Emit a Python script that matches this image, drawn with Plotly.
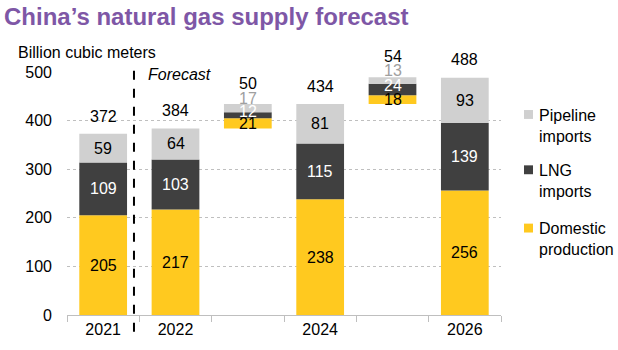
import plotly.graph_objects as go

# ---- data ----
categories = ["2021", "2022", "2022-24", "2024", "2024-26", "2026"]
tick_labels = ["2021", "2022", "", "2024", "", "2026"]
domestic = [205, 217, 21, 238, 18, 256]
lng = [109, 103, 12, 115, 24, 139]
pipeline = [59, 64, 17, 81, 13, 93]
totals = [372, 384, 50, 434, 54, 488]
is_change = [False, False, True, False, True, False]

series_names = ["Domestic<br>production", "LNG<br>imports", "Pipeline<br>imports"]
colors = ["#FFC91F", "#404040", "#D0D0D0"]
label_colors = ["#000000", "#FFFFFF", "#000000"]
change_label_colors = ["#000000", "#FFFFFF", "#A0A0A0"]
# nudges (px) for labels on the thin change bars
change_nudge = [0, 4, 10]

FONT = "Liberation Sans, Arial, sans-serif"
W, H = 618, 350
L, R, T, B = 67, 117, 72, 32
PW, PH = W - L - R, H - T - B

x = list(range(len(categories)))

# compute bases: change bars float on top of previous total
start = []
prev_total = 0
for i in range(len(categories)):
    if is_change[i]:
        start.append(prev_total)
        prev_total = prev_total + totals[i]
    else:
        start.append(0)
        prev_total = totals[i]

series = [domestic, lng, pipeline]
fig = go.Figure()
annotations = []
for s, vals in enumerate(series):
    bases = []
    for i in range(len(categories)):
        b = start[i] + sum(series[k][i] for k in range(s))
        bases.append(b)
    fig.add_trace(go.Bar(
        x=x, y=vals, base=bases, name=series_names[s],
        marker=dict(color=colors[s], line=dict(width=0)),
        width=0.66, showlegend=False, hoverinfo="skip",
    ))
    for i in range(len(categories)):
        annotations.append(dict(
            x=x[i], y=bases[i] + vals[i] / 2, xref="x", yref="y",
            text=str(vals[i]), showarrow=False,
            yshift=change_nudge[s] if is_change[i] else 0,
            font=dict(family=FONT, size=16,
                      color=change_label_colors[s] if is_change[i] else label_colors[s]),
        ))

# totals
for i in range(len(categories)):
    top = start[i] + totals[i]
    annotations.append(dict(
        x=x[i], y=top, xref="x", yref="y", text=str(totals[i]), showarrow=False,
        yshift=21 if is_change[i] else 18,
        font=dict(family=FONT, size=16, color="#000000"),
    ))

def px_x(px):
    return (px - L) / PW

def px_y(py):
    return (H - B - py) / PH

# axis title
annotations.append(dict(
    x=px_x(16), y=px_y(52), xref="paper", yref="paper", xanchor="left", yanchor="middle",
    text="Billion cubic meters", showarrow=False,
    font=dict(family=FONT, size=16, color="#000000"),
))
# forecast label
annotations.append(dict(
    x=0.59, y=px_y(75), xref="x", yref="paper", xanchor="left", yanchor="middle",
    text="<i>Forecast</i>", showarrow=False,
    font=dict(family=FONT, size=16, color="#000000"),
))

shapes = [dict(
    type="line", xref="x", yref="paper", x0=0.426, x1=0.426,
    y0=px_y(335), y1=px_y(68),
    line=dict(color="#000000", width=2, dash="dash"),
)]

# manual legend
legend_rows = [("Pipeline<br>imports", colors[2], 115),
               ("LNG<br>imports", colors[1], 171),
               ("Domestic<br>production", colors[0], 230)]
for text, col, ycen in legend_rows:
    shapes.append(dict(
        type="rect", xref="paper", yref="paper",
        x0=px_x(524), x1=px_x(533), y0=px_y(ycen + 4.5), y1=px_y(ycen - 4.5),
        fillcolor=col, line=dict(width=0),
    ))
    annotations.append(dict(
        x=px_x(537), y=px_y(ycen - 10), xref="paper", yref="paper",
        xanchor="left", yanchor="top", align="left", text=text, showarrow=False,
        font=dict(family=FONT, size=16, color="#000000"),
    ))

fig.update_layout(
    width=W, height=H,
    margin=dict(l=L, r=R, t=T, b=B, pad=0),
    plot_bgcolor="white", paper_bgcolor="white",
    barmode="overlay",
    title=dict(
        text="<b>China’s natural gas supply forecast</b>",
        x=4 / W, xanchor="left", xref="container",
        y=1 - 17 / H, yanchor="middle",
        font=dict(family=FONT, size=24, color="#7E57A6"),
    ),
    annotations=annotations,
    shapes=shapes,
    showlegend=False,
)
fig.update_xaxes(
    range=[-0.5, len(categories) - 0.5],
    tickmode="array", tickvals=x, ticktext=tick_labels,
    ticks="", showgrid=False, zeroline=False,
    showline=True, linecolor="#BFBFBF", linewidth=1,
    tickfont=dict(family=FONT, size=16, color="#000000"),
    minor=dict(tickmode="array", tickvals=[i - 0.5 for i in range(len(categories) + 1)],
               ticks="outside", ticklen=6, tickcolor="#BFBFBF", showgrid=False),
)
fig.update_yaxes(
    range=[0, 500], tickmode="array", tickvals=[0, 100, 200, 300, 400, 500],
    showgrid=True, gridcolor="#BFBFBF", griddash="dot", gridwidth=1,
    zeroline=False, showline=False, ticks="",
    ticklabelstandoff=14,
    tickfont=dict(family=FONT, size=16, color="#000000"),
)

fig.write_html("out.html")
